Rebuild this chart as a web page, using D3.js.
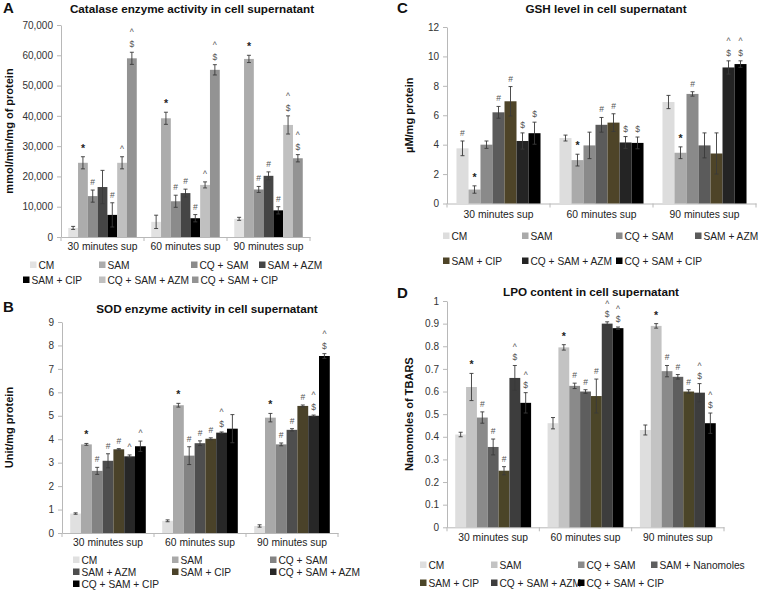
<!DOCTYPE html>
<html><head><meta charset="utf-8">
<script src="https://cdn.jsdelivr.net/npm/d3@7"></script>
<style>
html,body{margin:0;padding:0;background:#fff;}
svg{display:block;font-family:"Liberation Sans",Arial,sans-serif;}
</style></head>
<body><svg id="chart" width="758" height="590"></svg>
<script>
// ---------- DATA ----------
const groups = ["30 minutes sup", "60 minutes sup", "90 minutes sup"];
const seriesABC = ["CM", "SAM", "CQ + SAM", "SAM + AZM", "SAM + CIP", "CQ + SAM + AZM", "CQ + SAM + CIP"];
const seriesD = ["CM", "SAM", "CQ + SAM", "SAM + Nanomoles", "SAM + CIP", "CQ + SAM + AZM", "CQ + SAM + CIP"];

// A: Catalase (mmol/min/mg of protein), one row per group
const catalaseMean = [
  [3000, 24500, 13500, 16500, 7300, 24500, 59000],
  [5000, 39200, 11800, 14500, 6200, 17200, 55200],
  [6000, 58800, 15700, 20200, 8800, 37000, 26000]
];
const catalaseErr = [
  [500, 2000, 2000, 5500, 4000, 2000, 2000],
  [2200, 2000, 2000, 1300, 1200, 1000, 1700],
  [500, 1200, 1000, 1300, 1200, 3000, 1200]
];
const catalaseMarks = [
  ["", "*", "#", "", "#", "^", "^$"],
  ["", "*", "#", "#", "#", "^", "^$"],
  ["", "*", "#", "#", "#", "^$", "^$"]
];
const catalaseTicks = [0, 10000, 20000, 30000, 40000, 50000, 60000, 70000];

// B: SOD (Unit/mg protein)
const sodMean = [
  [0.83, 3.78, 2.65, 3.08, 3.57, 3.27, 3.70],
  [0.52, 5.45, 3.30, 3.83, 4.02, 4.28, 4.45],
  [0.30, 4.92, 3.78, 4.40, 5.42, 5.00, 7.55]
];
const sodErr = [
  [0.03, 0.04, 0.15, 0.30, 0.03, 0.06, 0.22],
  [0.04, 0.08, 0.38, 0.10, 0.04, 0.03, 0.60],
  [0.05, 0.18, 0.06, 0.05, 0.04, 0.03, 0.10]
];
const sodMarks = [
  ["", "*", "#", "#", "#", "^", "^"],
  ["", "*", "#", "#", "#", "^$", ""],
  ["", "*", "#", "#", "#", "^$", "^$"]
];
const sodTicks = [0, 1, 2, 3, 4, 5, 6, 7, 8, 9];

// C: GSH (µM/mg protein)
const gshMean = [
  [3.75, 0.95, 4.00, 6.20, 6.95, 4.25, 4.78],
  [4.45, 2.95, 3.95, 5.35, 5.50, 4.15, 4.12],
  [6.90, 3.45, 7.45, 3.95, 3.40, 9.25, 9.48]
];
const gshErr = [
  [0.50, 0.25, 0.25, 0.40, 1.00, 0.55, 0.75],
  [0.20, 0.40, 0.90, 0.50, 0.60, 0.40, 0.40],
  [0.45, 0.40, 0.15, 0.85, 1.40, 0.45, 0.22]
];
const gshMarks = [
  ["#", "*", "", "#", "#", "$", "$"],
  ["", "*", "", "#", "#", "$", "$"],
  ["", "*", "#", "", "", "^$", "^$"]
];
const gshTicks = [0, 2, 4, 6, 8, 10, 12];

// D: LPO (Nanomoles of TBARS)
const lpoMean = [
  [0.41, 0.62, 0.485, 0.355, 0.25, 0.66, 0.55],
  [0.46, 0.795, 0.625, 0.60, 0.58, 0.90, 0.88],
  [0.43, 0.89, 0.69, 0.665, 0.60, 0.595, 0.46]
];
const lpoErr = [
  [0.010, 0.060, 0.025, 0.035, 0.018, 0.055, 0.045],
  [0.025, 0.012, 0.012, 0.008, 0.075, 0.008, 0.005],
  [0.022, 0.010, 0.025, 0.010, 0.008, 0.040, 0.045]
];
const lpoMarks = [
  ["", "*", "#", "#", "#", "^$", "^$"],
  ["", "*", "#", "#", "#", "^$", "^$"],
  ["", "*", "#", "#", "#", "^$", "^$"]
];
const lpoTicks = [0, 0.1, 0.2, 0.3, 0.4, 0.5, 0.6, 0.7, 0.8, 0.9, 1];

// ---------- STYLES ----------
const colorsA = ["#e2e2e2", "#acacac", "#8b8b8b", "#454545", "#000000", "#c0c0c0", "#939393"];
const colorsB = ["#e0e0e0", "#a9a9a9", "#838383", "#4e4e4e", "#4a4229", "#272727", "#000000"];
const colorsC = ["#dddddd", "#aaaaaa", "#8a8a8a", "#5b5b5b", "#4e4428", "#242424", "#000000"];
const colorsD = ["#dedede", "#c3c3c3", "#8a8a8a", "#5e5e5e", "#4b4528", "#3d3d3d", "#000000"];

const svg = d3.select("#chart");

function drawPanel(p) {
  const g = svg.append("g");
  const y = d3.scaleLinear().domain([0, p.yMax]).range([p.y0, p.yTop]);
  const xg = d3.scaleBand().domain(groups).range([p.x0, p.x1]).padding(0);
  const xs = d3.scaleBand().domain(p.series).range([0, xg.bandwidth()]).paddingInner(0).paddingOuter(p.pad);

  // letter + title
  g.append("text").attr("x", p.letterX).attr("y", p.letterY).text(p.letter)
    .attr("font-size", 15).attr("font-weight", "bold").attr("fill", "#111");
  g.append("text").attr("x", p.titleX).attr("y", p.titleY).text(p.title)
    .attr("text-anchor", "middle").attr("font-size", 11.7).attr("font-weight", "bold").attr("fill", "#111");

  // y axis
  const yAxis = d3.axisLeft(y).tickValues(p.ticks).tickFormat(p.fmt).tickSize(4).tickSizeOuter(0);
  const ya = g.append("g").attr("transform", `translate(${p.x0},0)`).call(yAxis);
  ya.select(".domain").attr("stroke", "#b8b8b8");
  ya.selectAll(".tick line").attr("stroke", "#b8b8b8");
  ya.selectAll(".tick text").attr("font-size", 10).attr("fill", "#333")
    .attr("font-family", "Liberation Sans, Arial, sans-serif").attr("x", -8);

  // y title
  g.append("text").attr("transform", `translate(${p.yTitleX},${(p.y0 + p.yTop) / 2}) rotate(-90)`)
    .attr("text-anchor", "middle").attr("dominant-baseline", "central")
    .attr("font-size", 11).attr("font-weight", "bold").attr("fill", "#111").text(p.yTitle);

  // x axis
  const xAxis = d3.axisBottom(xg).tickSize(0).tickSizeOuter(0);
  const xa = g.append("g").attr("transform", `translate(0,${p.y0})`).call(xAxis);
  xa.select(".domain").attr("stroke", "#b8b8b8");
  xa.selectAll(".tick text").attr("font-size", 10.3).attr("fill", "#222")
    .attr("font-family", "Liberation Sans, Arial, sans-serif").attr("dy", null).attr("y", p.xLabelDy);
  const bounds = [xg.range()[0]].concat(groups.map(d => xg(d) + xg.bandwidth()));
  g.selectAll(".xbound").data(bounds).enter().append("line")
    .attr("x1", d => d).attr("x2", d => d).attr("y1", p.y0).attr("y2", p.y0 + 4)
    .attr("stroke", "#b8b8b8");

  // bars
  const rows = [];
  groups.forEach((grp, gi) => p.series.forEach((s, si) => {
    rows.push({grp, s, si, v: p.mean[gi][si], e: p.err[gi][si], m: p.marks[gi][si]});
  }));
  const bw = xs.bandwidth();
  const bars = g.append("g");
  bars.selectAll("rect").data(rows).enter().append("rect")
    .attr("x", d => xg(d.grp) + xs(d.s)).attr("y", d => y(d.v))
    .attr("width", bw).attr("height", d => p.y0 - y(d.v))
    .attr("fill", d => p.colors[d.si]);

  // error bars
  const eb = g.append("g").attr("stroke", "#3a3a3a").attr("stroke-width", 0.9);
  rows.forEach(d => {
    const cx = xg(d.grp) + xs(d.s) + bw / 2;
    const lo = y(Math.max(0, d.v - d.e)), hi = y(d.v + d.e);
    eb.append("line").attr("x1", cx).attr("x2", cx).attr("y1", lo).attr("y2", hi);
    eb.append("line").attr("x1", cx - 2).attr("x2", cx + 2).attr("y1", lo).attr("y2", lo);
    eb.append("line").attr("x1", cx - 2).attr("x2", cx + 2).attr("y1", hi).attr("y2", hi);
  });

  // significance marks
  const mk = g.append("g");
  rows.forEach(d => {
    const cx = xg(d.grp) + xs(d.s) + bw / 2;
    const top = y(d.v + d.e);
    const chars = d.m.split("");
    chars.reverse().forEach((c, k) => {
      mk.append("text").attr("x", cx).attr("y", top - 5 - k * p.markGap).text(c)
        .attr("text-anchor", "middle").attr("font-size", c === "*" ? 10.5 : 8.5)
        .attr("font-weight", c === "*" ? "bold" : "normal")
        .attr("fill", c === "*" ? "#222" : "#555");
    });
  });

  // legend
  const lg = g.append("g");
  p.legend.forEach((pos, i) => {
    lg.append("rect").attr("x", pos[0]).attr("y", pos[1] - 3.5).attr("width", 6.5).attr("height", 6.5)
      .attr("fill", p.colors[i]);
    lg.append("text").attr("x", pos[0] + 8.5).attr("y", pos[1] + 3.6).text(p.series[i])
      .attr("font-size", 10.2).attr("fill", "#222");
  });
}

drawPanel({
  letter: "A", letterX: 3, letterY: 13, title: "Catalase enzyme activity in cell supernatant", titleX: 192, titleY: 13,
  yTitle: "mmol/min/mg of protein", yTitleX: 9,
  x0: 61, x1: 310, y0: 237, yTop: 25, yMax: 70000, ticks: catalaseTicks, fmt: d3.format(","),
  series: seriesABC, mean: catalaseMean, err: catalaseErr, marks: catalaseMarks, colors: colorsA, pad: 0.74,
  xLabelDy: 13, markGap: 12,
  legend: [[30, 265], [99, 265], [191, 265], [259, 265], [23, 280], [99, 280], [192, 280]]
});

drawPanel({
  letter: "B", letterX: 3, letterY: 312, title: "SOD enzyme activity in cell supernatant", titleX: 207, titleY: 313,
  yTitle: "Unit/mg protein", yTitleX: 9,
  x0: 62, x1: 338, y0: 533, yTop: 322, yMax: 9, ticks: sodTicks, fmt: d3.format("d"),
  series: seriesABC, mean: sodMean, err: sodErr, marks: sodMarks, colors: colorsB, pad: 0.76,
  xLabelDy: 13, markGap: 12,
  legend: [[73, 560], [172, 560], [270, 560], [73, 572], [172, 572], [270, 572], [73, 584]]
});

drawPanel({
  letter: "C", letterX: 397, letterY: 13, title: "GSH level in cell supernatant", titleX: 606, titleY: 13,
  yTitle: "µM/mg protein", yTitleX: 409,
  x0: 447, x1: 756, y0: 203.5, yTop: 27, yMax: 12, ticks: gshTicks, fmt: d3.format("d"),
  series: seriesABC, mean: gshMean, err: gshErr, marks: gshMarks, colors: colorsC, pad: 0.79,
  xLabelDy: 14, markGap: 12,
  legend: [[443, 236], [522, 236], [616, 236], [695, 236], [443, 261], [522, 261], [616, 261]]
});

drawPanel({
  letter: "D", letterX: 397, letterY: 298, title: "LPO content in cell supernatant", titleX: 591, titleY: 296,
  yTitle: "Nanomoles of TBARS", yTitleX: 409,
  x0: 447, x1: 724, y0: 527.3, yTop: 301, yMax: 1, ticks: lpoTicks, fmt: d => String(+d.toFixed(1)),
  series: seriesD, mean: lpoMean, err: lpoErr, marks: lpoMarks, colors: colorsD, pad: 0.76,
  xLabelDy: 14, markGap: 10,
  legend: [[420, 565], [491, 565], [578, 565], [651, 565], [420, 583], [491, 583], [578, 583]]
});
</script></body></html>
